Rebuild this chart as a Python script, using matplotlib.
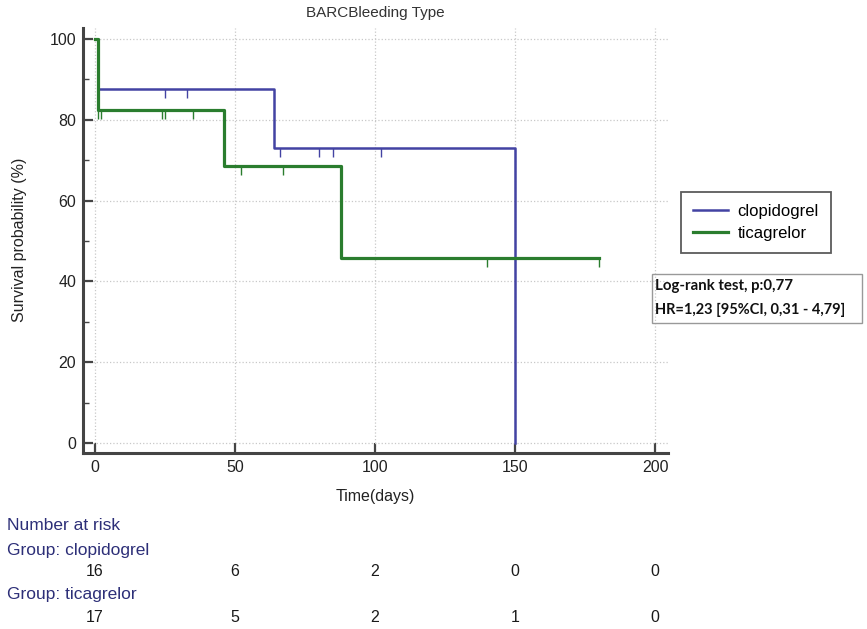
import matplotlib
matplotlib.use("Agg")
import matplotlib.pyplot as plt
import matplotlib.transforms as mtransforms
from matplotlib.patches import Rectangle
from matplotlib.lines import Line2D

plt.rcParams['font.family'] = ['Liberation Sans', 'DejaVu Sans']

# Kaplan-Meier steps (time in days, survival in %)
clop_t = [0, 1, 64, 150, 150]
clop_s = [100, 87.5, 72.9, 0, 0]
clop_cens_t = [25, 33, 66, 80, 85, 102]
clop_cens_s = [87.5, 87.5, 72.9, 72.9, 72.9, 72.9]

tica_t = [0, 1, 46, 88, 180]
tica_s = [100, 82.35, 68.6, 45.7, 45.7]
tica_cens_t = [1, 2, 24, 25, 35, 52, 67, 140, 180]
tica_cens_s = [82.35, 82.35, 82.35, 82.35, 82.35, 68.6, 68.6, 45.7, 45.7]

risk_times = [0, 50, 100, 150, 200]
risk_clop = [16, 6, 2, 0, 0]
risk_tica = [17, 5, 2, 1, 0]

blue = '#4343a3'
green = '#2a7d2e'
navy = '#2d2f78'

fig = plt.figure(figsize=(8.67, 6.29), dpi=100)
ax = fig.add_axes([0.0957, 0.2798, 0.6747, 0.6757])

ax.step(clop_t, clop_s, where='post', color=blue, lw=1.8, zorder=3)
ax.plot(clop_cens_t, clop_cens_s, ls='none', marker=3, ms=6.5, mew=1.0, color=blue, zorder=3)
ax.step(tica_t, tica_s, where='post', color=green, lw=2.3, zorder=4)
ax.plot(tica_cens_t, tica_cens_s, ls='none', marker=3, ms=6.5, mew=1.0, color=green, zorder=4)

ax.set_xlim(-4.3, 204.6)
ax.set_ylim(-2.5, 102.7)
ax.set_xticks(risk_times)
ax.set_yticks([0, 20, 40, 60, 80, 100])
ax.set_yticks([10, 30, 50, 70, 90], minor=True)
ax.grid(True, which='major', ls=':', color='#c8c8c8', lw=0.9)
for s in ['top', 'right']:
    ax.spines[s].set_visible(False)
for s in ['left', 'bottom']:
    ax.spines[s].set_linewidth(2.2)
    ax.spines[s].set_color('#444444')
ax.tick_params(which='major', direction='in', length=7, width=1.6, color='#444444',
               labelsize=11.5, labelcolor='#222222', pad=5)
ax.tick_params(which='minor', direction='in', length=4, width=1.0, color='#444444')

fig.text(20 / 867, 1 - 240 / 629, 'Survival probability (%)', rotation=90,
         ha='center', va='center', fontsize=11.5, color='#222222')
fig.text(375 / 867, 1 - 497 / 629, 'Time(days)', ha='center', va='center',
         fontsize=11.5, color='#222222')
fig.text(375 / 867, 1 - 13 / 629, 'BARCBleeding Type', ha='center', va='center',
         fontsize=11, color='#333333')

# legend
handles = [Line2D([], [], color=blue, lw=1.8), Line2D([], [], color=green, lw=2.3)]
leg = fig.legend(handles, ['clopidogrel', 'ticagrelor'], loc='upper left',
                 bbox_to_anchor=(681 / 867, 1 - 192 / 629), fontsize=12,
                 frameon=True, fancybox=False, handlelength=2.1, borderpad=0.7,
                 labelspacing=0.45, handletextpad=0.6, borderaxespad=0)
leg.get_frame().set_edgecolor('#333333')
leg.get_frame().set_linewidth(1.3)

# log-rank box
fig.patches.append(Rectangle((652 / 867, 1 - 323 / 629), 210 / 867, 49 / 629,
                             transform=fig.transFigure, fill=False,
                             edgecolor='#999999', lw=1.0))
fig.text(655 / 867, 1 - 286 / 629, 'Log-rank test, p:0,77', family='Lato',
         weight='bold', fontsize=10.8, va='center', color='#111111')
fig.text(655 / 867, 1 - 310 / 629, 'HR=1,23 [95%CI, 0,31 - 4,79]', family='Lato',
         weight='bold', fontsize=10.5, va='center', color='#111111')

# number at risk table
fig.text(7 / 867, 1 - 526 / 629, 'Number at risk', fontsize=12.5, color=navy, va='center')
fig.text(7 / 867, 1 - 550 / 629, 'Group: clopidogrel', fontsize=12.5, color=navy, va='center')
fig.text(7 / 867, 1 - 594 / 629, 'Group: ticagrelor', fontsize=12.5, color=navy, va='center')
trans = mtransforms.blended_transform_factory(ax.transData, fig.transFigure)
for t, c, g in zip(risk_times, risk_clop, risk_tica):
    ax.text(t, 1 - 572 / 629, str(c), transform=trans, ha='center', va='center',
            fontsize=11.5, color='#1a1a1a', clip_on=False)
    ax.text(t, 1 - 617 / 629, str(g), transform=trans, ha='center', va='center',
            fontsize=11.5, color='#1a1a1a', clip_on=False)

fig.savefig('out.png', dpi=100)
